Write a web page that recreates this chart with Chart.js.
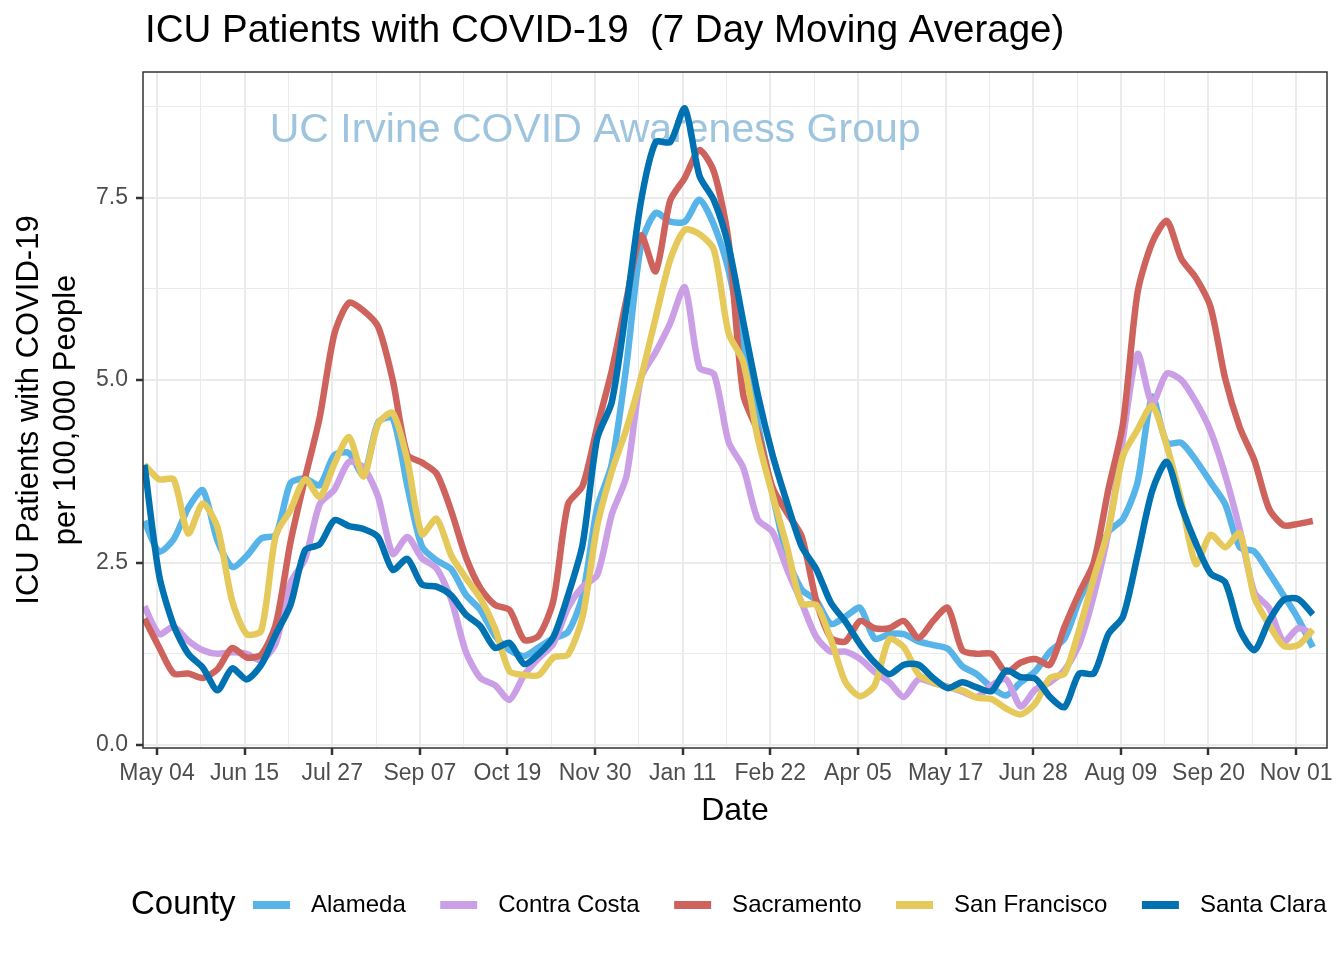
<!DOCTYPE html>
<html>
<head>
<meta charset="utf-8">
<script src="https://cdn.jsdelivr.net/npm/chart.js@4.4.1/dist/chart.umd.min.js"></script>
<style>
  html, body { margin: 0; padding: 0; background: #fff; }
  #wrap { width: 1344px; height: 960px; }
</style>
</head>
<body>
<div id="wrap"><canvas id="icuChart" width="1344" height="960"></canvas></div>
<script>
// days are counted from May 04 2020; one point per week, first one on Apr 28 2020
const tickLabels = ["May 04", "Jun 15", "Jul 27", "Sep 07", "Oct 19", "Nov 30", "Jan 11",
  "Feb 22", "Apr 05", "May 17", "Jun 28", "Aug 09", "Sep 20", "Nov 01"];
const tickStep = 42;
const firstDay = -6;
const stepDays = 7;

const counties = ["Alameda", "Contra Costa", "Sacramento", "San Francisco", "Santa Clara"];
const colors = ["#56B4E9", "#CB9FE6", "#CD635C", "#E6C95B", "#0072B2"];

const alameda = [3.07, 2.65, 2.82, 3.25, 3.49, 2.8, 2.44, 2.59, 2.83, 2.88, 3.59, 3.65, 3.56, 3.97, 4.0, 3.7, 4.42, 4.48, 3.55, 2.72, 2.53,
  2.41, 2.06, 1.85, 1.5, 1.3, 1.22, 1.34, 1.46, 1.55, 2.05, 3.25, 3.85, 5.2, 6.85, 7.29, 7.17, 7.17, 7.47, 7.12, 6.5,
  5.48,
  4.4, 3.45, 2.58, 2.13, 1.98, 1.66, 1.76, 1.88, 1.46, 1.52, 1.52, 1.42, 1.37, 1.32, 1.08, 0.97, 0.79, 0.68, 0.86, 1.01,
  1.28, 1.46, 1.98, 2.4, 2.92, 3.1, 3.6, 4.77, 4.14, 4.14, 3.9, 3.6, 3.3, 2.71, 2.65, 2.36, 2.05, 1.73, 1.34];
const contraCosta = [1.9, 1.52, 1.62, 1.43, 1.3, 1.25, 1.27, 1.25, 1.16, 1.4, 2.22, 2.55, 3.3, 3.5, 3.88, 3.8, 3.4, 2.62, 2.85, 2.56, 2.42,
  2.0, 1.28, 0.92, 0.82, 0.62, 0.96, 1.19, 1.39, 1.88, 2.17, 2.33, 3.16, 3.68, 5.03, 5.38, 5.78, 6.27, 5.17, 5.08, 4.15,
  3.8,
  3.09, 2.92, 2.41, 1.95, 1.48, 1.28, 1.28, 1.18, 1.0, 0.86, 0.66, 0.9, 0.85, 0.8, 0.73, 0.66, 0.82, 0.9, 0.53, 0.76,
  0.86, 1.03, 1.38, 2.05, 2.92, 4.2, 5.36, 4.68, 5.09, 5.0, 4.7, 4.3, 3.7, 2.95, 2.09, 1.88, 1.42, 1.6, 1.52];
const sacramento = [1.73, 1.34, 0.98, 0.98, 0.92, 1.04, 1.33, 1.2, 1.24, 1.66, 2.78, 3.66, 4.49, 5.63, 6.06, 5.95, 5.73, 5.0, 3.98, 3.87, 3.72,
  3.21, 2.58, 2.15, 1.92, 1.85, 1.44, 1.5, 1.98, 3.3, 3.55, 4.36, 5.13, 6.1, 6.98, 6.49, 7.46, 7.77, 8.15, 7.85, 6.9,
  4.8,
  4.29, 3.53, 3.18, 2.86, 1.98, 1.47, 1.42, 1.7, 1.6, 1.6, 1.7, 1.47, 1.7, 1.88, 1.3, 1.25, 1.25, 1.0, 1.13, 1.18,
  1.1, 1.62, 2.08, 2.5, 3.5, 4.4, 6.2, 6.88, 7.18, 6.66, 6.4, 6.0, 5.02, 4.35, 3.9, 3.24, 3.01, 3.03, 3.07];
const sanFrancisco = [3.84, 3.64, 3.64, 2.9, 3.31, 2.98, 1.98, 1.52, 1.57, 2.88, 3.22, 3.64, 3.4, 3.85, 4.22, 3.68, 4.4, 4.55, 3.9, 2.89, 3.1,
  2.6, 2.29, 2.01, 1.6, 1.01, 0.96, 0.96, 1.2, 1.24, 1.76, 3.0, 3.75, 4.33, 5.03, 5.85, 6.65, 7.06, 7.0, 6.78, 5.64,
  5.25,
  4.2, 3.43, 2.71, 1.94, 1.92, 1.45, 0.86, 0.67, 0.82, 1.45, 1.34, 0.97, 0.86, 0.79, 0.75, 0.65, 0.63, 0.5, 0.42, 0.57,
  0.92, 0.98, 1.58, 2.29, 2.95, 3.96, 4.32, 4.65, 4.1, 3.34, 2.48, 2.88, 2.71, 2.9, 2.02, 1.65, 1.36, 1.37, 1.58];
const santaClara = [3.84, 2.33, 1.64, 1.25, 1.06, 0.75, 1.05, 0.9, 1.1, 1.52, 1.92, 2.67, 2.75, 3.08, 3.0, 2.96, 2.85, 2.4, 2.55, 2.2, 2.17,
  2.05, 1.79, 1.63, 1.33, 1.4, 1.11, 1.25, 1.48, 2.05, 2.75, 4.2, 4.7, 6.0, 7.45, 8.26, 8.26, 8.72, 7.8, 7.46, 6.83,
  5.8,
  4.8, 3.98, 3.32, 2.72, 2.41, 1.95, 1.69, 1.38, 1.13, 0.97, 1.1, 1.1, 0.92, 0.78, 0.86, 0.79, 0.74, 1.02, 0.93, 0.91,
  0.66, 0.52, 0.98, 0.98, 1.52, 1.76, 2.6, 3.48, 3.88, 3.27, 2.76, 2.35, 2.23, 1.58, 1.3, 1.7, 1.99, 2.0, 1.79];

const seriesValues = [alameda, contraCosta, sacramento, sanFrancisco, santaClara];

const titleText = "ICU Patients with COVID-19  (7 Day Moving Average)";
const watermark = { text: "UC Irvine COVID Awareness Group", day: 210, value: 8.42 };

const FONT = '"Liberation Sans", Arial, sans-serif';

const datasets = seriesValues.map((vals, i) => ({
  label: counties[i],
  data: vals.map((v, j) => ({ x: firstDay + j * stepDays, y: v })),
  borderColor: colors[i],
  borderWidth: 6.5,
  pointRadius: 0,
  tension: 0.25,
  fill: false,
  order: seriesValues.length - i, // Santa Clara drawn on top
}));

const isMajorX = (v) => v % tickStep === 0;
const isMajorY = (v) => Math.round(v / 1.25) % 2 === 0;

const panelPlugin = {
  id: "panel",
  beforeDatasetsDraw(chart) {
    const { ctx, scales } = chart;
    ctx.save();
    ctx.font = "41px " + FONT;
    ctx.fillStyle = "#9EC4DE";
    ctx.textAlign = "center";
    ctx.textBaseline = "middle";
    ctx.fillText(watermark.text, scales.x.getPixelForValue(watermark.day), scales.y.getPixelForValue(watermark.value));
    ctx.restore();
  },
  afterDraw(chart) {
    const { ctx, chartArea: a } = chart;
    ctx.save();
    ctx.strokeStyle = "#333333";
    ctx.lineWidth = 1.5;
    ctx.strokeRect(a.left, a.top, a.right - a.left, a.bottom - a.top);

    // title
    ctx.fillStyle = "#000";
    ctx.font = "38.5px " + FONT;
    ctx.textAlign = "left";
    ctx.textBaseline = "middle";
    ctx.fillText(titleText, a.left + 2, 31);

    // legend
    const ly = 905;
    ctx.font = "33px " + FONT;
    ctx.fillText("County", 131, ly);
    let x = 253;
    ctx.font = "24px " + FONT;
    counties.forEach((name, i) => {
      ctx.strokeStyle = colors[i];
      ctx.lineWidth = 8;
      ctx.beginPath();
      ctx.moveTo(x, ly);
      ctx.lineTo(x + 37, ly);
      ctx.stroke();
      x += 37 + 21;
      ctx.fillStyle = "#000";
      ctx.fillText(name, x, ly);
      x += ctx.measureText(name).width + 34.5;
    });
    ctx.restore();
  },
};

new Chart(document.getElementById("icuChart"), {
  type: "line",
  data: { datasets },
  options: {
    responsive: false,
    devicePixelRatio: 1,
    animation: false,
    layout: { padding: { left: 0, right: 17, top: 72, bottom: 130 } },
    plugins: { legend: { display: false }, tooltip: { enabled: false } },
    scales: {
      x: {
        type: "linear",
        min: -6.7,
        max: 560.8,
        afterBuildTicks(scale) {
          const t = [];
          for (let v = 0; v <= 546; v += tickStep / 2) t.push({ value: v });
          scale.ticks = t;
        },
        afterFit(scale) { scale.height = 82; },
        ticks: {
          autoSkip: false,
          maxRotation: 0,
          padding: 5,
          color: "#4D4D4D",
          font: { family: FONT, size: 23 },
          callback: (v) => (isMajorX(v) ? tickLabels[v / tickStep] : ""),
        },
        grid: {
          color: "#EBEBEB",
          lineWidth: (c) => (c.tick && isMajorX(c.tick.value) ? 2 : 1),
          tickLength: 7,
          tickWidth: 2.5,
          tickColor: (c) => (c.tick && isMajorX(c.tick.value) ? "#333333" : "rgba(0,0,0,0)"),
        },
        border: { display: false },
        title: { display: true, text: "Date", color: "#000", font: { family: FONT, size: 32 }, padding: 0 },
      },
      y: {
        min: -0.04,
        max: 9.22,
        afterBuildTicks(scale) {
          const t = [];
          for (let k = 0; k <= 7; k++) t.push({ value: k * 1.25 });
          scale.ticks = t;
        },
        afterFit(scale) { scale.width = 143; },
        ticks: {
          padding: 8,
          color: "#4D4D4D",
          font: { family: FONT, size: 23 },
          callback: (v) => (isMajorY(v) ? v.toFixed(1) : ""),
        },
        grid: {
          color: "#EBEBEB",
          lineWidth: (c) => (c.tick && isMajorY(c.tick.value) ? 2 : 1),
          tickLength: 7,
          tickWidth: 2.5,
          tickColor: (c) => (c.tick && isMajorY(c.tick.value) ? "#333333" : "rgba(0,0,0,0)"),
        },
        border: { display: false },
        title: {
          display: true,
          text: ["ICU Patients with COVID-19", "per 100,000 People"],
          color: "#000",
          font: { family: FONT, size: 31 },
          padding: { top: 11, bottom: 0 },
        },
      },
    },
  },
  plugins: [panelPlugin],
});
</script>
</body>
</html>
